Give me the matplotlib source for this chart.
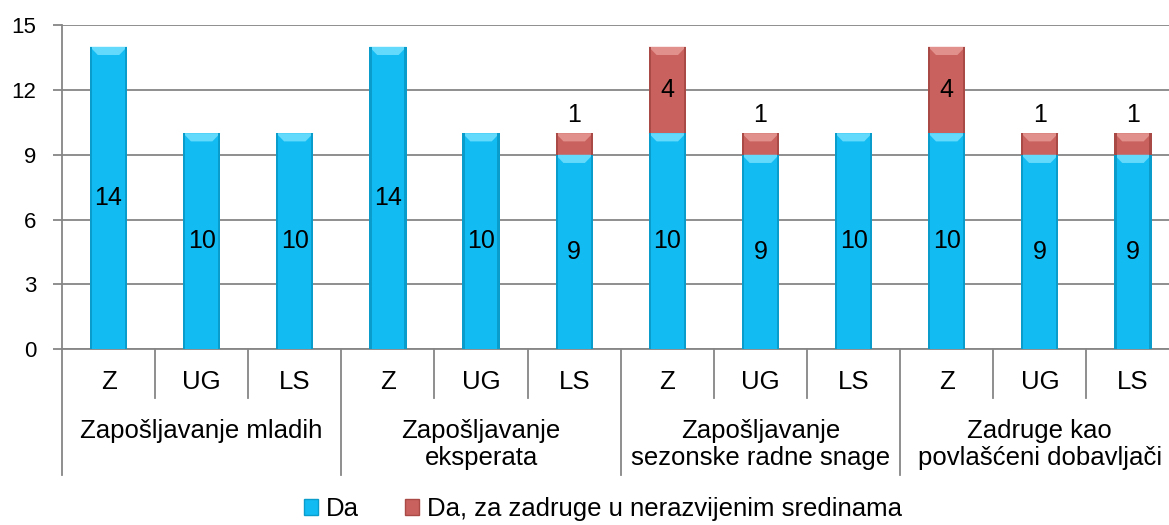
import matplotlib.pyplot as plt
from matplotlib.patches import Polygon, Patch
from matplotlib.transforms import blended_transform_factory

plt.rcParams['font.family'] = ['Liberation Sans', 'DejaVu Sans']

groups = ['Zapošljavanje mladih', 'Zapošljavanje\neksperata',
          'Zapošljavanje\nsezonske radne snage', 'Zadruge kao\npovlašćeni dobavljači']
subs = ['Z', 'UG', 'LS']
da = [14, 10, 10, 14, 10, 9, 10, 9, 10, 10, 9, 9]
da_nerazv = [0, 0, 0, 0, 0, 1, 4, 1, 0, 4, 1, 1]
series_names = ['Da', 'Da, za zadruge u nerazvijenim sredinama']

blue, blue_top, blue_side = '#12BCF3', '#63D9FB', '#0A9CCB'
red, red_top, red_side = '#C9625E', '#E2908C', '#A94A47'
grey = '#868686'

fig = plt.figure(figsize=(11.69, 5.25), dpi=100)
ax = fig.add_axes([0.053, 0.335, 0.956, 0.617])

n = len(da)
x = list(range(n))
w = 0.4


def bevel(ax, xc, y0, h, col, top, side):
    ax.bar(xc, h, w, bottom=y0, color=col, zorder=3)
    d = 0.085
    bh = min(0.38, h * 0.45)
    ax.add_patch(Polygon([(xc - w / 2, y0 + h), (xc + w / 2, y0 + h),
                          (xc + w / 2 - d, y0 + h - bh), (xc - w / 2 + d, y0 + h - bh)],
                         closed=True, color=top, zorder=4, lw=0))
    ax.bar(xc - w / 2 + 0.012, h, 0.024, bottom=y0, color=side, zorder=4, lw=0)
    ax.bar(xc + w / 2 - 0.012, h, 0.024, bottom=y0, color=side, zorder=4, lw=0)


for i in x:
    bevel(ax, i, 0, da[i], blue, blue_top, blue_side)
    ax.text(i, da[i] / 2, str(da[i]), ha='center', va='center', fontsize=18, zorder=5)
    if da_nerazv[i]:
        bevel(ax, i, da[i], da_nerazv[i], red, red_top, red_side)
        if da_nerazv[i] >= 2:
            ax.text(i, da[i] + da_nerazv[i] / 2, str(da_nerazv[i]),
                    ha='center', va='center', fontsize=18, zorder=5)
        else:
            ax.text(i, da[i] + da_nerazv[i] + 0.3, str(da_nerazv[i]),
                    ha='center', va='bottom', fontsize=18, zorder=5)

ax.set_xlim(-0.5, n - 0.5)
ax.set_ylim(0, 15)
ax.set_yticks(range(0, 16, 3))
ax.tick_params(axis='y', labelsize=16, length=6.5, color=grey, width=1.3, pad=12)
ax.set_xticks([])
ax.yaxis.grid(True, color=grey, lw=1.3, zorder=0)
for s in ['top', 'right']:
    ax.spines[s].set_visible(False)
for s in ['left', 'bottom']:
    ax.spines[s].set_color(grey)
    ax.spines[s].set_linewidth(1.3)

tr = blended_transform_factory(ax.transData, ax.transAxes)
for i in x:
    ax.text(i, -0.102, subs[i % 3], transform=tr, ha='center', va='center', fontsize=18.5)
for b in range(n + 1):
    long_line = b % 3 == 0
    ax.plot([b - 0.5, b - 0.5], [0, -0.39 if long_line else -0.15], transform=tr,
            color=grey, lw=1.3, clip_on=False)
for g, name in enumerate(groups):
    ax.text(g * 3 + 1, -0.215, name, transform=tr, ha='center', va='top',
            fontsize=18.5, linespacing=1.15)

handles = [Patch(facecolor=blue, edgecolor=blue_side), Patch(facecolor=red, edgecolor=red_side)]
fig.legend(handles, series_names, loc='center', bbox_to_anchor=(0.516, 0.03), ncol=2,
           frameon=False, fontsize=18.5, handlelength=0.55, handleheight=0.55,
           handletextpad=0.3, columnspacing=1.8)

fig.savefig('out.png', dpi=100)
